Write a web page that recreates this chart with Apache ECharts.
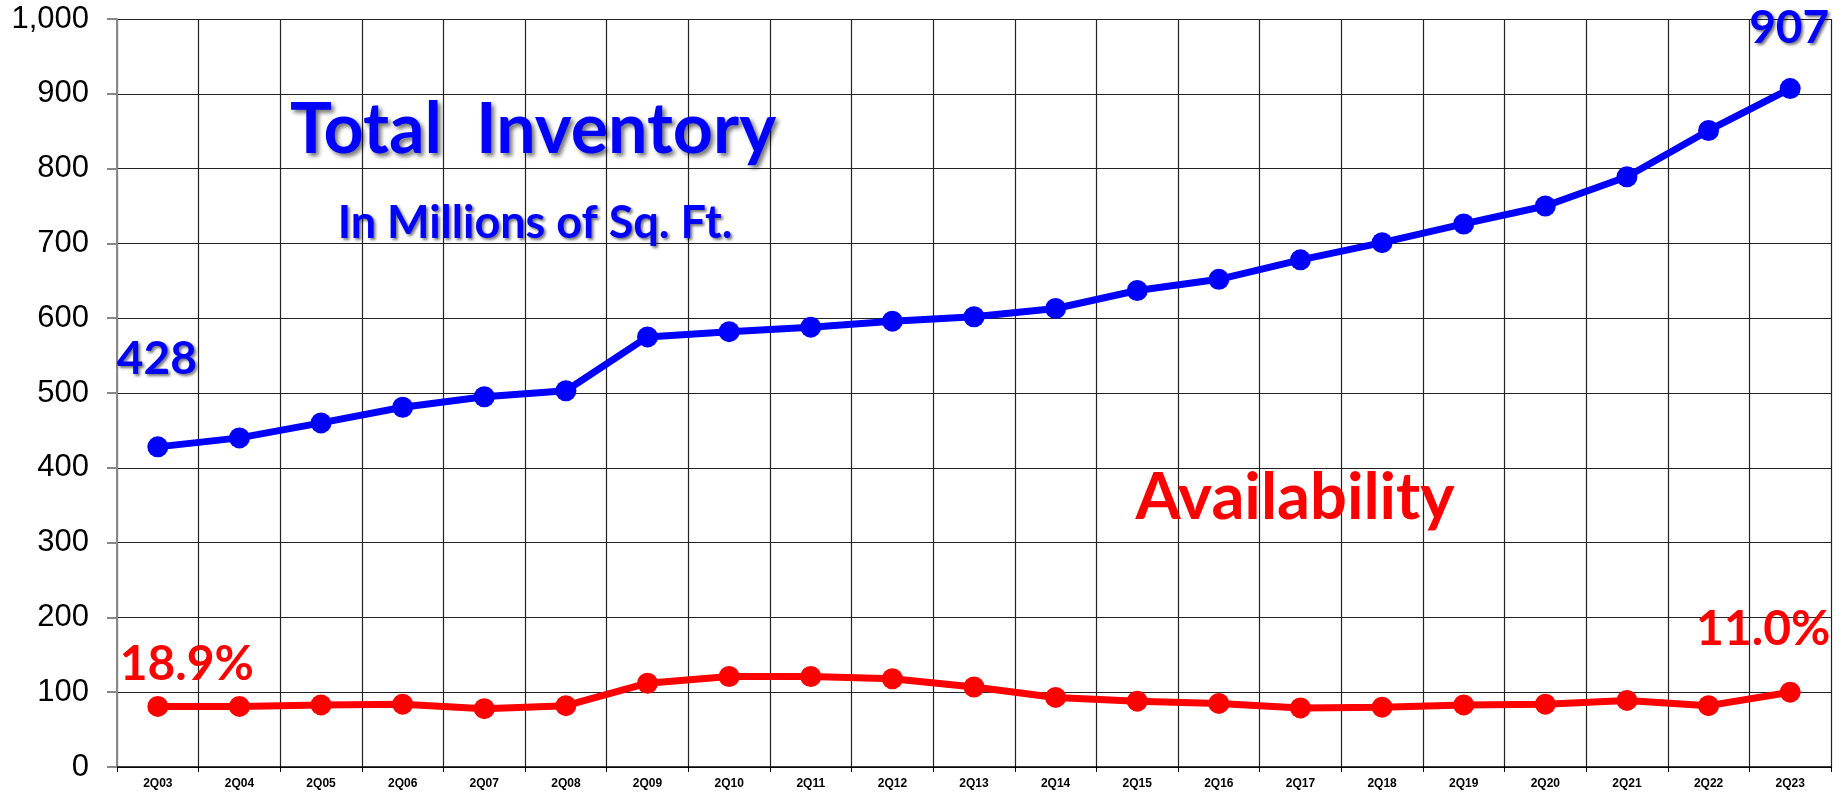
<!DOCTYPE html>
<html>
<head>
<meta charset="utf-8">
<script src="https://cdn.jsdelivr.net/npm/echarts@6/dist/echarts.min.js"></script>
<style>
html,body{margin:0;padding:0;background:#fff;}
#chart{width:1845px;height:792px;}
</style>
</head>
<body>
<div id="chart"></div>
<script>
const categories = ['2Q03','2Q04','2Q05','2Q06','2Q07','2Q08','2Q09','2Q10','2Q11','2Q12','2Q13','2Q14','2Q15','2Q16','2Q17','2Q18','2Q19','2Q20','2Q21','2Q22','2Q23'];
const totalInventory = [428,440,460,481,495,503,575,582,588,596,602,613,637,652,678,701,726,750,789,851,907];
const availableSpace = [81,81,83,84,78,82,112,121,121,118,107,93,88,85,79,80,83,84,89,82,100];
const firstRate = '18.9%';
const lastRate = '11.0%';
const yMin = 0, yMax = 1000, yInterval = 100;

const shadow = {textShadowColor:'rgba(0,0,0,0.55)', textShadowBlur:3, textShadowOffsetX:2, textShadowOffsetY:2};
const FONT = 'Lato';

function blueData() {
  return totalInventory.map((v, i) => {
    if (i === 0) return {value: v, label: Object.assign({show:true, position:'inside', offset:[-1,-88], formatter:'{c}', fontFamily:FONT, fontWeight:'bold', fontSize:46, color:'#0000ff'}, shadow)};
    if (i === totalInventory.length - 1) return {value: v, label: Object.assign({show:true, position:'inside', offset:[-1,-60], formatter:'{c}', fontFamily:FONT, fontWeight:'bold', fontSize:46, color:'#0000ff'}, shadow)};
    return v;
  });
}
function redData() {
  return availableSpace.map((v, i) => {
    if (i === 0) return {value: v, label: {show:true, position:'inside', offset:[29,-42], formatter:firstRate, fontFamily:FONT, fontWeight:'bold', fontSize:48, color:'#ff0000'}};
    if (i === availableSpace.length - 1) return {value: v, label: {show:true, position:'inside', offset:[-27,-63], formatter:lastRate, fontFamily:FONT, fontWeight:'bold', fontSize:48, color:'#ff0000'}};
    return v;
  });
}

const chart = echarts.init(document.getElementById('chart'));
chart.setOption({
  animation:false,
  backgroundColor:'#fff',
  grid:{left:117, right:14, top:19, bottom:25, containLabel:false},
  xAxis:{
    type:'category', data:categories, boundaryGap:true,
    axisLine:{lineStyle:{color:'#000', width:1.5}},
    axisTick:{show:true, length:5, lineStyle:{color:'#000'}},
    axisLabel:{fontFamily:'Liberation Sans', fontWeight:'bold', fontSize:12, color:'#000', margin:11},
    splitLine:{show:true, lineStyle:{color:'#222', width:1.2}}
  },
  yAxis:{
    type:'value', min:yMin, max:yMax, interval:yInterval,
    axisLine:{show:true, lineStyle:{color:'#888', width:2}},
    axisTick:{show:true, length:10, inside:false, lineStyle:{color:'#888', width:2}},
    axisLabel:{fontFamily:'Liberation Sans', fontSize:31, color:'#000', margin:28,
      formatter:v => v.toLocaleString('en-US')},
    splitLine:{show:true, lineStyle:{color:'#222', width:1.2}}
  },
  series:[
    {type:'line', data:blueData(), symbol:'circle', symbolSize:21, itemStyle:{color:'#0000ff'}, lineStyle:{color:'#0000ff', width:7}, z:3},
    {type:'line', data:redData(), symbol:'circle', symbolSize:21, itemStyle:{color:'#ff0000'}, lineStyle:{color:'#ff0000', width:7}, z:3}
  ],
  graphic:[
    {type:'text', z:10, style:{text:'Total  Inventory', x:533, y:130, align:'center', verticalAlign:'middle', font:'bold 70px Lato', fill:'#0000ff',
      textShadowColor:'rgba(0,0,0,0.55)', textShadowBlur:4, textShadowOffsetX:3, textShadowOffsetY:3}},
    {type:'text', z:10, style:{text:'In Millions of Sq. Ft.', x:535, y:223, align:'center', verticalAlign:'middle', font:'bold 45px Lato', fill:'#0000ff',
      textShadowColor:'rgba(0,0,0,0.55)', textShadowBlur:3, textShadowOffsetX:2, textShadowOffsetY:2}},
    {type:'text', z:10, style:{text:'Availability', x:1295, y:498, align:'center', verticalAlign:'middle', font:'bold 65px Lato', fill:'#ff0000'}}
  ]
});
</script>
</body>
</html>
